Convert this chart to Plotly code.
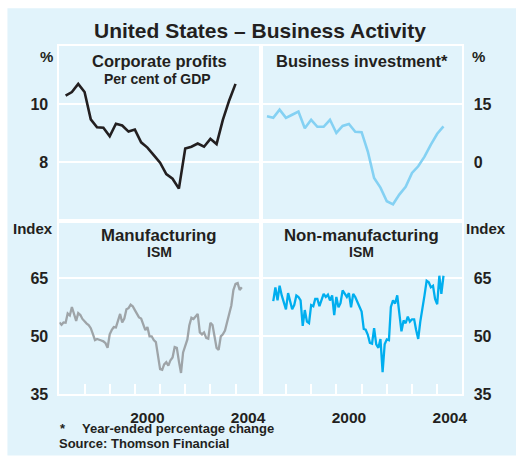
import plotly.graph_objects as go
import pandas as pd

# ---------------- data ----------------
profits_start = "1997Q1"
profits = [10.30, 10.42, 10.70, 10.42, 9.48, 9.21, 9.19, 8.90, 9.33, 9.27, 9.06, 9.13,
           8.69, 8.51, 8.25, 7.99, 7.60, 7.44, 7.10, 8.48, 8.54, 8.65, 8.54, 8.81,
           8.63, 9.46, 10.13, 10.70]

invest_start = "1997Q1"
investment = [11.9, 11.5, 13.6, 11.5, 12.3, 13.1, 8.8, 11.0, 9.2, 9.2, 11.0, 7.6,
              9.4, 9.9, 7.9, 7.8, 2.8, -4.0, -6.5, -10.0, -10.8, -8.3, -6.3, -2.7,
              -1.0, 1.5, 4.6, 7.4, 9.3]

manuf_start = "1997-01-01"
manufacturing = [
    53.6, 53.0, 53.6, 53.5, 55.9, 55.4, 57.6, 56.0, 54.0, 56.0, 55.5, 54.5,
    53.8, 53.3, 52.9, 52.1, 50.6, 49.0, 49.3, 49.2, 48.9, 48.7, 48.2, 47.0,
    50.5, 51.7, 52.4, 52.3, 54.3, 55.8, 53.6, 54.6, 57.0, 57.3, 58.2, 57.8,
    56.8, 55.8, 54.9, 54.6, 53.2, 51.6, 52.4, 50.0, 50.0, 49.0, 48.5, 45.0,
    41.5, 41.3, 42.7, 43.3, 42.4, 43.8, 44.5, 47.2, 47.0, 43.5, 40.5, 45.8,
    47.5, 49.2, 52.8, 54.8, 54.5, 55.3, 55.8, 51.0, 50.5, 51.0, 49.6, 49.4,
    53.5, 52.9, 49.8, 47.0, 46.5, 50.0, 50.5, 51.5, 53.7, 55.5, 58.0, 62.0,
    63.6, 63.8, 62.0, 62.7]

nonmanuf_start = "1997-07-01"
non_manufacturing = [
    59.1, 62.7, 59.3, 63.1, 60.6, 58.6,
    57.0, 61.2, 58.9, 57.0, 58.1, 60.6, 60.2, 59.3, 52.7, 56.8, 53.8, 53.4,
    58.1, 57.8, 59.7, 59.7, 57.8, 59.3, 61.0, 60.2, 60.8, 59.3, 60.6, 55.5,
    60.2, 57.5, 58.6, 61.9, 61.2, 60.2, 61.2, 57.5, 61.0, 60.2, 58.9, 57.6,
    56.4, 51.9, 51.7, 50.4, 48.3, 48.1, 52.1, 47.9, 47.0, 49.3, 40.7, 47.9,
    49.2, 49.0, 57.6, 59.3, 58.5, 60.6, 55.9, 51.3, 54.1, 53.4, 55.1, 53.8,
    54.4, 54.4, 51.7, 49.3, 53.8, 56.8, 60.6, 64.4, 64.0, 62.7, 63.1, 59.7,
    58.3, 65.7, 61.0, 65.7]

year_labels = ["2000", "2004"]
year_label_pos = ["2000-07-01", "2004-07-01"]
year_ticks = [f"{y}-01-01" for y in range(1998, 2005)]
x_range = ["1997-01-01", "2005-01-01"]

# quarterly data plotted at quarter end
def quarter_ends(start, n):
    p = pd.period_range(start, periods=n, freq="Q")
    return [(q.end_time + pd.Timedelta(days=1)).strftime("%Y-%m-%d") for q in p]

def month_starts(start, n):
    return pd.date_range(start, periods=n, freq="MS").strftime("%Y-%m-%d").tolist()

x_prof = quarter_ends(profits_start, len(profits))
x_inv = quarter_ends(invest_start, len(investment))
x_man = month_starts(manuf_start, len(manufacturing))
x_non = month_starts(nonmanuf_start, len(non_manufacturing))

# ---------------- styling ----------------
W, H = 516, 460
BG = "#e1f3fb"
FONT = "Arial, 'Liberation Sans', Helvetica, sans-serif"
TXT = "#231f20"

def px_x(p):
    return p / W

def px_y(p):
    return 1 - p / H

xl = [px_x(60), px_x(263.3)]
xr = [px_x(263.3), px_x(467)]
yt = [px_y(225), px_y(47)]
yb = [px_y(402), px_y(225)]

fig = go.Figure()
fig.add_trace(go.Scatter(x=x_prof, y=profits, mode="lines", xaxis="x", yaxis="y",
                         line=dict(color="#231f20", width=2.6)))
fig.add_trace(go.Scatter(x=x_inv, y=investment, mode="lines", xaxis="x2", yaxis="y2",
                         line=dict(color="#84d1f3", width=2.6)))
fig.add_trace(go.Scatter(x=x_man, y=manufacturing, mode="lines", xaxis="x3", yaxis="y3",
                         line=dict(color="#9ea4a8", width=2.3)))
fig.add_trace(go.Scatter(x=x_non, y=non_manufacturing, mode="lines", xaxis="x4", yaxis="y4",
                         line=dict(color="#00aeef", width=2.3)))

frame = dict(showline=True, linecolor="white", linewidth=2, mirror=True, zeroline=False)
tickfont = dict(family=FONT, size=16, color=TXT, weight="bold")
xtickfont = dict(family=FONT, size=15.5, color=TXT, weight="bold")

def top_x(domain, anchor):
    return dict(domain=domain, anchor=anchor, type="date", range=x_range,
                showticklabels=False, ticks="", showgrid=False, **frame)

def bottom_x(domain, anchor):
    return dict(domain=domain, anchor=anchor, type="date", range=x_range,
                tickmode="array", tickvals=year_label_pos, ticktext=year_labels,
                ticks="", showgrid=False, tickfont=xtickfont, ticklabelstandoff=8,
                minor=dict(tickmode="array", tickvals=year_ticks, ticks="inside",
                           ticklen=10, tickwidth=2, tickcolor="white", showgrid=False),
                **frame)

def y_ax(domain, anchor, rng, vals, side):
    return dict(domain=domain, anchor=anchor, range=rng, tickmode="array", tickvals=vals,
                side=side, showgrid=True, gridcolor="white", gridwidth=2,
                ticks="outside", ticklen=6, tickcolor="rgba(0,0,0,0)",
                tickfont=tickfont, **frame)

fig.update_layout(
    width=W, height=H,
    margin=dict(l=0, r=0, t=0, b=0),
    paper_bgcolor="white", plot_bgcolor=BG,
    showlegend=False,
    font=dict(family=FONT, color=TXT),
    xaxis=top_x(xl, "y"),
    yaxis=y_ax(yt, "x", [6, 12], [8, 10], "left"),
    xaxis2=top_x(xr, "y2"),
    yaxis2=y_ax(yt, "x2", [-15, 30], [0, 15], "right"),
    xaxis3=bottom_x(xl, "y3"),
    yaxis3=y_ax(yb, "x3", [35, 80], [35, 50, 65], "left"),
    xaxis4=bottom_x(xr, "y4"),
    yaxis4=y_ax(yb, "x4", [35, 80], [35, 50, 65], "right"),
    hovermode=False,
)

# light-blue chart box, with the thin white strip above and to the left
fig.add_shape(type="rect", xref="paper", yref="paper", x0=px_x(7.5), x1=1.01,
              y0=-0.01, y1=px_y(8.5), fillcolor=BG, line=dict(width=0), layer="below")

def note(text, x, y, size, xanchor="center"):
    fig.add_annotation(text=text, x=px_x(x), y=px_y(y), xref="paper", yref="paper",
                       xanchor=xanchor, yanchor="middle", showarrow=False,
                       font=dict(family=FONT, size=size, color=TXT, weight="bold"))

note("United States – Business Activity", 262.5, 31, 21)
note("Corporate profits", 161, 62, 16.5)
note("Per cent of GDP", 159, 80.5, 14)
note("Business investment*", 366, 62, 16.5)
note("%", 46.5, 58, 15)
note("%", 483, 58, 15)
note("Index", 33, 233, 15)
note("Index", 513, 233, 15, "right")
note("Manufacturing", 161, 240, 16.8)
note("ISM", 161, 257.5, 14)
note("Non-manufacturing", 365.5, 240, 16.8)
note("ISM", 365.5, 257.5, 14)
note("*", 59, 437.5, 13, "left")
note("Year-ended percentage change", 81, 437, 13, "left")
note("Source: Thomson Financial", 58, 452.5, 13, "left")

# the page itself gets no margin, so the figure sits exactly in the window
fig.write_html("out.html",
               config={"displayModeBar": False},
               post_script="document.body.style.margin='0';document.body.style.overflow='hidden';")
